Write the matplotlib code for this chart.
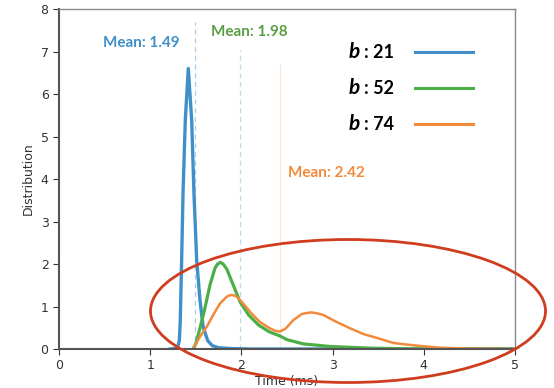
import matplotlib
matplotlib.use("Agg")
import matplotlib.pyplot as plt
from matplotlib.patches import Ellipse

# Kurven
blue_x = [1.22, 1.30, 1.32, 1.33, 1.345, 1.36, 1.385, 1.418, 1.455, 1.48, 1.51,
          1.546, 1.58, 1.63, 1.68, 1.75, 1.9, 2.1, 5.0]
blue_y = [0.0, 0.02, 0.21, 0.68, 2.09, 3.66, 5.39, 6.6, 5.39, 3.66, 2.09,
          1.15, 0.53, 0.2, 0.08, 0.03, 0.01, 0.0, 0.0]

green_x = [1.47, 1.50, 1.546, 1.60, 1.656, 1.71, 1.74, 1.77, 1.80, 1.84, 1.91,
           1.985, 2.08, 2.19, 2.31, 2.42, 2.50, 2.68, 2.97, 3.41, 4.0, 5.0]
green_y = [0.0, 0.12, 0.49, 0.96, 1.51, 1.90, 2.00, 2.04, 2.00, 1.88, 1.51,
           1.11, 0.80, 0.56, 0.40, 0.31, 0.22, 0.12, 0.06, 0.02, 0.0, 0.0]

orange_x = [1.47, 1.546, 1.62, 1.69, 1.765, 1.84, 1.865, 1.89, 1.92, 1.95, 2.02,
            2.11, 2.20, 2.31, 2.37, 2.42, 2.48, 2.57, 2.66, 2.72, 2.77, 2.83,
            2.90, 3.04, 3.19, 3.34, 3.52, 3.67, 3.92, 4.18, 4.5, 5.0]
orange_y = [0.0, 0.29, 0.52, 0.80, 1.07, 1.23, 1.26, 1.27, 1.26, 1.23, 1.07,
            0.84, 0.64, 0.49, 0.43, 0.41, 0.47, 0.68, 0.82, 0.85, 0.86, 0.84,
            0.80, 0.64, 0.49, 0.35, 0.24, 0.14, 0.08, 0.03, 0.01, 0.0]

means = [1.49, 1.98, 2.42]
mean_tops = [7.7, 7.03, 6.68]
b_values = [21, 52, 74]

c_blue = "#3f90c8"
c_green = "#4cae47"
c_orange = "#f28a3c"

fig = plt.figure(figsize=(5.54, 3.88), dpi=100)
ax = fig.add_axes([0.1065, 0.1005, 0.823, 0.8763])

# Mittelwert-Linien
ax.plot([means[0], means[0]], [0, mean_tops[0]], color="#a9cfe8", lw=0.9, ls=(0, (4, 3)))
ax.plot([means[1], means[1]], [0, mean_tops[1]], color="#b8dde8", lw=0.9, ls=(0, (4, 3)))
ax.plot([means[2], means[2]], [0, mean_tops[2]], color="#fbe5d5", lw=0.9)

ax.plot(blue_x, blue_y, color=c_blue, lw=2.4, solid_joinstyle="round")
ax.plot(green_x, green_y, color=c_green, lw=2.3, solid_joinstyle="round")
ax.plot(orange_x, orange_y, color=c_orange, lw=1.8, solid_joinstyle="round")

ax.set_xlim(0, 5)
ax.set_ylim(0, 8)
ax.set_xticks([0, 1, 2, 3, 4, 5])
ax.set_yticks(range(9))
ax.tick_params(labelsize=9, colors="#333333", length=4)
for s in ["left", "bottom"]:
    ax.spines[s].set_color("#555555")
    ax.spines[s].set_linewidth(1.5)
for s in ["top", "right"]:
    ax.spines[s].set_color("#888888")
    ax.spines[s].set_linewidth(1.0)

ax.set_xlabel("Time (ms)", fontsize=9, color="#333333", labelpad=2)
ax.set_ylabel("Distribution", fontsize=9, color="#333333", labelpad=4)

# Beschriftungen der Mittelwerte
ax.text(0.90, 7.2, "Mean: 1.49", color=c_blue, fontsize=11, fontweight="bold",
        family="Lato", ha="center", va="center")
ax.text(2.09, 7.45, "Mean: 1.98", color="#5a9e45", fontsize=11, fontweight="bold",
        family="Lato", ha="center", va="center")
ax.text(2.93, 4.14, "Mean: 2.42", color=c_orange, fontsize=11, fontweight="bold",
        family="Lato", ha="center", va="center")

# eigene Legende
for i, (bv, col) in enumerate(zip(b_values, [c_blue, c_green, c_orange])):
    yf = 1 - (52 + 36 * i) / 388
    fig.text(349 / 554, yf, "b", fontsize=15, fontweight="bold", style="italic",
             family="Lato", ha="left", va="center")
    fig.text(364 / 554, yf, ": " + str(bv), fontsize=13, fontweight="bold",
             family="Lato", ha="left", va="center")
    fig.add_artist(plt.Line2D([415 / 554, 473 / 554], [yf, yf], color=col, lw=2.2,
                              transform=fig.transFigure))

# rote Markierung
ell = Ellipse((348 / 554, 77 / 388), 395 / 554, 143 / 388, transform=fig.transFigure,
              fill=False, edgecolor="#d03c1e", lw=2.0, clip_on=False)
fig.add_artist(ell)

fig.savefig("out.png", dpi=100)
plt.close(fig)
